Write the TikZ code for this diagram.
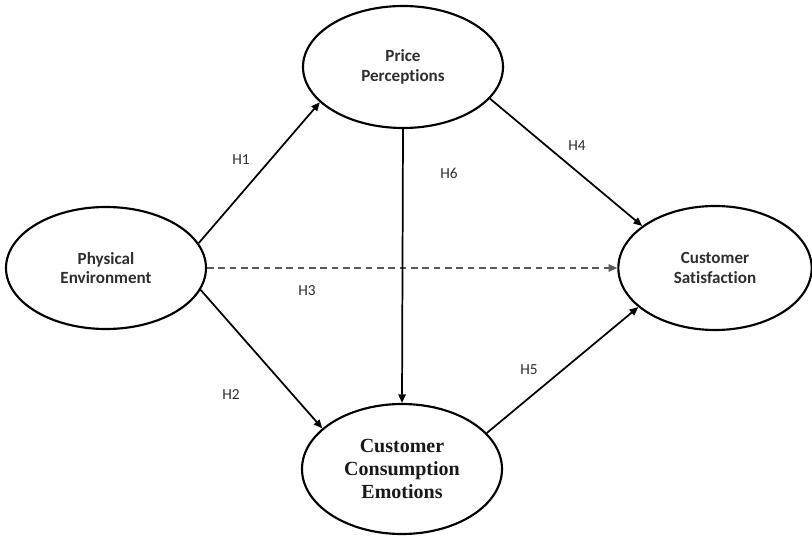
\documentclass[tikz,border=0pt]{standalone}
\usepackage{fontspec}
\setmainfont{Carlito}[Ligatures=NoCommon]
\newfontfamily\serifbold{Liberation Serif}
\usetikzlibrary{shapes.geometric,arrows.meta}
\definecolor{txt}{rgb}{0.18,0.18,0.18}
\tikzset{
  construct/.style={ellipse, draw=black, line width=1.6pt, inner sep=0pt, align=center,
    font=\fontsize{12.8}{14.5}\selectfont\bfseries, text=txt},
  link/.style={line width=1.3pt, -{Triangle[length=6.5pt,width=5.5pt]}},
  dashlink/.style={line width=1.3pt, draw=black!65, dash pattern=on 5pt off 3.5pt,
    -{Triangle[length=6.5pt,width=5.5pt]}},
  hlabel/.style={font=\fontsize{11.5}{13}\selectfont, text=txt}
}
\begin{document}
\begin{tikzpicture}[x=0.75pt,y=-0.75pt]
\useasboundingbox (0,0) rectangle (812,538);
\node[construct, minimum width=150pt, minimum height=91.5pt] (pe) at (106,268) {Physical\\Environment};
\node[construct, minimum width=150pt, minimum height=91.5pt] (pp) at (403,67) {Price\\Perceptions};
\node[construct, minimum width=145pt, minimum height=93pt] (cs) at (715,268) {Customer\\Satisfaction};
\node[construct, minimum width=150pt, minimum height=97.5pt,
  font=\serifbold\fontsize{15}{17.2}\selectfont\bfseries, text=black!90] (cce) at (402,469) {Customer\\Consumption\\Emotions};
\draw[link] (pe.15) -- (pp.203);
\draw[link] (pe.-13) -- (cce.153);
\draw[dashlink] (pe.east) -- (cs.west);
\draw[link] (pp.-20) -- (cs.150);
\draw[link] (cce.23) -- (cs.207);
\draw[link] (pp.south) -- (cce.north);
\node[hlabel] (h1) at (241,160) {H1};
\node[hlabel] (h2) at (231,395) {H2};
\node[hlabel] (h3) at (307,291) {H3};
\node[hlabel] (h4) at (577,146) {H4};
\node[hlabel] (h5) at (529,370) {H5};
\node[hlabel] (h6) at (449,173) {H6};
\end{tikzpicture}
\end{document}
